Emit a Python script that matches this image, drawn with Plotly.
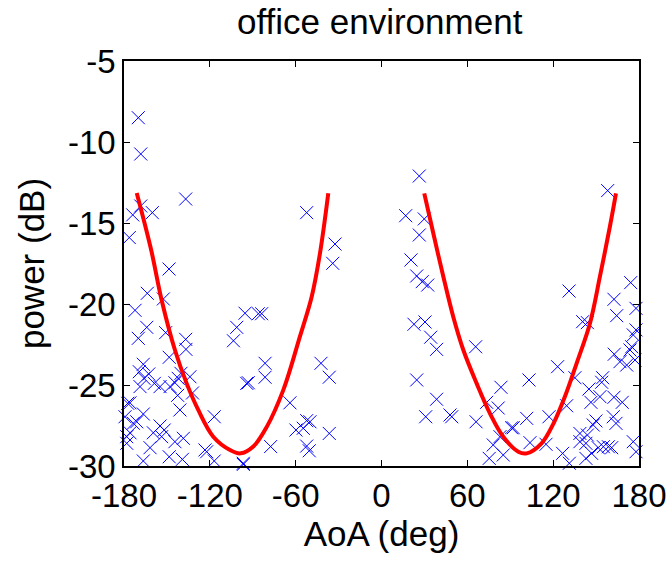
import plotly.graph_objects as go

# Measured angle-of-arrival samples (deg) and received power (dB)
aoa_deg = [
    -170.0, -168.3, -136.9, -168.3, -173.9, -160.2, -176.3,
    -148.5, -163.7, -152.5, -172.3, -164.1, -170.0, -150.9, -136.9, -136.7,
    -148.4, -166.5, -169.3, -162.7, -166.0, -140.2, -142.1, -133.9, -158.8,
    -154.8, -168.8, -147.8, -144.4, -132.1, -142.5, -177.4, -140.9, -166.5,
    -179.3, -173.5, -116.9, -154.8, -151.9, -159.5, -175.8, -178.1, -153.7,
    -138.5, -144.4, -178.1, -161.8, -123.4, -122.2, -148.4, -139.2, -166.5,
    -116.9, -96.6, -95.4, -101.2, -103.5, -94.2, -171.1, -175.8,
    -52.3, -32.5, -34.1, -86.1, -83.8, -81.4, -81.4, -93.1, -42.3, -36.5,
    -64.0, -52.3, -50.0, -59.8, -54.7, -36.5, -77.5, -52.3, -50.5, -96.6,
    26.4, 16.9, 29.9, 26.4, 20.6, 24.6, 28.5, 32.3, 22.7, 30.4, 34.4, 38.5,
    65.8, 24.6, 38.5, 30.9, 47.9, 49.1, 66.1, 83.5, 73.5, 81.6, 90.9, 78.1,
    82.8, 75.3, 85.1,
    158.1, 174.2, 131.1, 162.5, 177.9, 164.4, 140.6, 143.9, 177.9, 176.0,
    174.9, 173.7, 162.7, 166.7, 171.4, 177.2, 123.1, 103.1, 135.2, 154.6,
    153.9, 145.0, 146.4, 152.7, 162.5, 168.3, 129.4, 101.5, 117.1, 92.1,
    149.9, 148.0, 162.0, 163.9, 138.7, 143.9, 138.7, 142.9, 103.8, 115.0,
    151.5, 155.1, 158.6, 160.9, 176.0, 177.9, 126.6, 142.9, 131.3, 146.9,
]
power_db = [
    -8.5, -10.74, -13.52, -13.95, -14.5, -14.36, -15.9,
    -17.84, -19.34, -19.69, -20.39, -21.44, -22.12, -21.77, -22.18, -22.8,
    -23.29, -23.72, -24.18, -24.32, -24.59, -24.28, -24.59, -24.49, -24.9,
    -25.1, -25.1, -25.1, -24.86, -25.49, -25.64, -26.13, -26.54, -26.79,
    -26.96, -27.36, -26.96, -27.53, -27.78, -27.95, -27.95, -28.19, -28.19,
    -28.29, -28.5, -28.6, -28.87, -29.01, -29.12, -29.43, -29.59, -29.69,
    -29.69, -29.9, -20.57, -21.44, -22.27, -24.9, -27.27, -26.1,
    -14.36, -16.3, -17.49, -20.6, -20.6, -23.66, -24.52, -24.86, -23.66, -24.52,
    -26.1, -27.2, -27.27, -27.78, -27.67, -27.99, -28.8, -28.77, -29.06, -29.83,
    -12.1, -14.55, -14.75, -15.74, -17.28, -18.27, -18.62, -18.83, -21.25, -21.11, -22.05, -22.8,
    -22.64, -24.69, -25.88, -26.96, -26.85, -26.96, -27.27, -25.14, -26.07, -26.42, -27.64, -28.7,
    -28.19, -29.53, -29.32,
    -13.0, -18.68, -19.2, -19.71, -20.27, -20.72, -21.09, -21.15, -21.6, -21.91,
    -22.64, -22.84, -23.1, -23.56, -23.77, -23.46, -23.87, -24.69, -24.55, -24.55,
    -24.83, -25.25, -26.07, -25.72, -25.76, -26.07, -26.28, -27.06, -26.96, -27.64,
    -27.22, -27.47, -26.96, -27.37, -27.99, -28.09, -28.5, -28.6, -28.56, -28.66,
    -28.87, -28.81, -28.81, -28.87, -28.5, -29.12, -29.22, -29.53, -29.83, -29.22,
]

# Fitted power profile, left lobe
fit_left_aoa = [-171.1, -161.0, -153.7, -144.4, -136.2, -128.1, -117.6, -105.9,
                -98.5, -89.6, -80.3, -68.6, -57.0, -48.8, -43.0, -37.2]
fit_left_pow = [-13.15, -16.67, -19.75, -22.84, -24.9, -26.54, -28.19, -29.01,
                -29.22, -28.8, -27.6, -25.3, -22.0, -19.55, -16.87, -13.17]

# Fitted power profile, right lobe
fit_right_aoa = [29.9, 36.2, 43.2, 50.2, 57.2, 66.5, 75.8, 85.1, 95.6, 101.5,
                 111.9, 120.1, 128.3, 136.4, 145.7, 152.7, 159.7, 163.9]
fit_right_pow = [-13.17, -15.63, -18.3, -20.8, -22.84, -24.9, -26.75, -28.19, -29.12, -29.22,
                 -28.6, -27.4, -25.7, -23.66, -21.2, -18.3, -15.2, -13.17]

x_ticks = [-180, -120, -60, 0, 60, 120, 180]
y_ticks = [-30, -25, -20, -15, -10, -5]

FONT = "Liberation Sans, Arial, sans-serif"

fig = go.Figure()
fig.add_trace(go.Scatter(
    x=aoa_deg, y=power_db, mode="markers",
    marker=dict(symbol="x-thin", size=13, color="#0000FF",
                line=dict(width=1, color="#0000FF")),
    showlegend=False, cliponaxis=False,
))
for fx, fy in ((fit_left_aoa, fit_left_pow), (fit_right_aoa, fit_right_pow)):
    fig.add_trace(go.Scatter(
        x=fx, y=fy, mode="lines", line=dict(color="#FF0000", width=4, shape="spline"),
        showlegend=False,
    ))

axis_common = dict(
    showline=True, linecolor="black", linewidth=1.5, mirror="allticks",
    ticks="inside", ticklen=6, tickwidth=1, tickcolor="black",
    showgrid=False, zeroline=False, automargin=False,
    tickfont=dict(family=FONT, size=33, color="black"),
)

fig.update_layout(
    width=672, height=566,
    margin=dict(l=124, r=33, t=61, b=100, autoexpand=False),
    paper_bgcolor="white", plot_bgcolor="white",
    font=dict(family=FONT, color="black"),
    title=dict(text="office environment", x=0.565, xanchor="center",
               y=0.962, yanchor="middle",
               font=dict(family=FONT, size=35, color="black")),
    xaxis=dict(range=[-180, 180], tickvals=x_ticks,
               ticktext=[str(v) for v in x_ticks],
               title=dict(text="AoA (deg)", font=dict(family=FONT, size=35), standoff=8),
               **axis_common),
    yaxis=dict(range=[-30, -5], tickvals=y_ticks,
               ticktext=[str(v) for v in y_ticks],
               title=dict(text="power (dB)", font=dict(family=FONT, size=35), standoff=13),
               **axis_common),
)

fig.write_html("out.html")
